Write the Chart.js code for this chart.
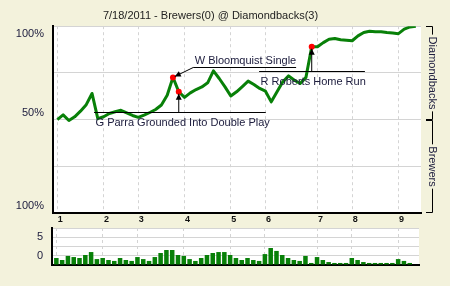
<!DOCTYPE html>
<html>
<head>
<meta charset="utf-8">
<script src="https://cdn.jsdelivr.net/npm/chart.js@4"></script>
<style>
  html, body { margin: 0; padding: 0; background: #f3f2dc; }
  #wrap { position: relative; width: 450px; height: 286px; overflow: hidden; }
  #wpChart { position: absolute; left: 0; top: 0; }
  #levChart { position: absolute; left: 0; top: 224px; }
</style>
</head>
<body>
<div id="wrap">
  <canvas id="wpChart" width="450" height="226"></canvas>
  <canvas id="levChart" width="450" height="62"></canvas>
</div>
<script>
const titleText = '7/18/2011 - Brewers(0) @ Diamondbacks(3)';
const teams = ['Diamondbacks', 'Brewers'];

// win probability (home team %), one value per play
const winProb = [50, 52.5, 49.5, 51.5, 54.5, 58, 64, 50.5, 51.5, 53.3,
  54.2, 55, 53.6, 52.2, 51.2, 52.4, 53.8, 55.4, 57.8, 63,
  72.6, 64.9, 61.9, 64.3, 66.1, 67.5, 69.7, 76.1, 72, 67.5,
  62.6, 64.9, 67.7, 70.6, 68.8, 66.7, 65.2, 59.5, 64.9, 70.2,
  73.4, 71.1, 69.3, 72.6, 89, 89, 91.2, 93, 93.4, 92.7,
  92.5, 92.2, 94.8, 96.6, 97.3, 97, 97, 96.6, 96.4, 96,
  98.4, 99.6, 100];

// bottom bars, one per play
const leverage = [3.8, 2.7, 4.9, 4.3, 3.8, 5.4, 7.0, 3.2, 3.8, 2.7,
  2.2, 3.8, 2.7, 2.2, 4.3, 3.2, 2.2, 4.3, 6.5, 8.1,
  8.1, 5.4, 4.9, 3.2, 2.2, 3.8, 5.4, 6.5, 7.0, 7.0,
  5.4, 3.8, 2.7, 3.8, 2.7, 2.2, 5.9, 9.2, 7.6, 5.4,
  3.8, 2.7, 2.2, 4.9, 1.1, 4.3, 2.7, 1.6, 1.1, 1.1,
  1.1, 3.8, 2.7, 1.6, 1.1, 1.1, 1.1, 1.1, 1.1, 3.2,
  2.2, 1.1];

const inningStart = [0, 8, 14, 22, 30, 36, 45, 51, 59];
const inningLabels = ['1', '2', '3', '4', '5', '6', '7', '8', '9'];

const pctTicks = [0, 25, 50, 75, 100];
const pctLabels = { 100: '100%', 50: '50%', 0: '100%' };
const levTicks = [0, 5, 10, 15, 20];
const levLabels = { 15: '5', 5: '0' };

const eventIdx = [20, 21, 44];
const eventText = ['W Bloomquist Single', 'G Parra Grounded Into Double Play', 'R Roberts Home Run'];

const FONT = "'Liberation Sans', Arial, sans-serif";
const TEXT = '#202040';
const GRID = '#d4d4d4';

// where each note's rule sits (data units) and where its arrow starts
const noteLayout = [
  { x1: 23.5, x2: 41.3, y: 77.9, from: 23.5, side: 'above' },
  { x1: 6.35, x2: 36.05, y: 53.9, from: 21, side: 'below' },
  { x1: 34.9, x2: 53.2, y: 76.1, from: 44, side: 'below' }
];

const plotBg = {
  id: 'plotBg',
  beforeDraw(chart) {
    const { ctx, chartArea: a } = chart;
    ctx.save();
    ctx.fillStyle = '#ffffff';
    ctx.fillRect(a.left, a.top, a.right - a.left, a.bottom - a.top);
    ctx.restore();
  }
};

function arrowHead(ctx, x1, y1, x2, y2) {
  const ang = Math.atan2(y2 - y1, x2 - x1);
  const len = 6, w = 3;
  ctx.beginPath();
  ctx.moveTo(x2, y2);
  ctx.lineTo(x2 - len * Math.cos(ang) + w * Math.sin(ang), y2 - len * Math.sin(ang) - w * Math.cos(ang));
  ctx.lineTo(x2 - len * Math.cos(ang) - w * Math.sin(ang), y2 - len * Math.sin(ang) + w * Math.cos(ang));
  ctx.closePath();
  ctx.fill();
}

const notes = {
  id: 'notes',
  afterDatasetsDraw(chart) {
    const { ctx, scales: { x, y } } = chart;
    ctx.save();
    ctx.strokeStyle = '#000';
    ctx.fillStyle = '#000';
    ctx.lineWidth = 1;
    ctx.font = '11px ' + FONT;
    noteLayout.forEach((n, k) => {
      const ly = Math.round(y.getPixelForValue(n.y)) + 0.5;
      const lx1 = x.getPixelForValue(n.x1), lx2 = x.getPixelForValue(n.x2);
      ctx.beginPath();
      ctx.moveTo(lx1, ly);
      ctx.lineTo(lx2, ly);
      ctx.stroke();

      const i = eventIdx[k];
      const px = x.getPixelForValue(i), py = y.getPixelForValue(winProb[i]);
      const sx = x.getPixelForValue(n.from);
      const d = Math.hypot(px - sx, py - ly);
      const ex = px + (sx - px) * 2 / d, ey = py + (ly - py) * 2 / d;
      ctx.beginPath();
      ctx.moveTo(sx, ly);
      ctx.lineTo(ex, ey);
      ctx.stroke();
      arrowHead(ctx, sx, ly, ex, ey);

      ctx.fillStyle = TEXT;
      ctx.textBaseline = 'alphabetic';
      ctx.textAlign = 'left';
      const ty = n.side === 'above' ? ly - 3.5 : ly + 13;
      ctx.fillText(eventText[k], lx1 + 1.5, ty);
      ctx.fillStyle = '#000';
    });
    ctx.restore();
  }
};

const sideLabels = {
  id: 'sideLabels',
  afterDraw(chart) {
    const { ctx, chartArea: a, scales: { y } } = chart;
    ctx.save();
    ctx.font = '11px ' + FONT;
    ctx.strokeStyle = '#000';
    ctx.lineWidth = 1;
    const xL = a.right + 5, xM = Math.round(a.right + 11) + 0.5;
    [[100, 50, teams[0]], [50, 0, teams[1]]].forEach(([v1, v2, name]) => {
      const y1 = Math.round(y.getPixelForValue(v1)) + 0.5;
      const y2 = Math.round(y.getPixelForValue(v2)) - 0.5;
      const mid = (y1 + y2) / 2;
      const tw = ctx.measureText(name).width;
      ctx.beginPath();
      ctx.moveTo(xL, y1); ctx.lineTo(xM, y1); ctx.lineTo(xM, mid - tw / 2 - 2);
      ctx.moveTo(xM, mid + tw / 2 + 2); ctx.lineTo(xM, y2); ctx.lineTo(xL, y2);
      ctx.stroke();
      ctx.save();
      ctx.translate(xM, mid);
      ctx.rotate(Math.PI / 2);
      ctx.fillStyle = TEXT;
      ctx.textAlign = 'center';
      ctx.textBaseline = 'middle';
      ctx.fillText(name, 0, 0);
      ctx.restore();
    });

    // percent labels on the left
    ctx.fillStyle = TEXT;
    ctx.textAlign = 'right';
    ctx.textBaseline = 'alphabetic';
    Object.keys(pctLabels).forEach(v => {
      const py = y.getPixelForValue(+v);
      const by = +v === 100 ? py + 11 : py - 4;
      ctx.fillText(pctLabels[v], a.left - 9, by);
    });
    ctx.restore();
  }
};

const noPad = s => { s.paddingTop = 0; s.paddingBottom = 0; s.paddingLeft = 0; s.paddingRight = 0; };

new Chart(document.getElementById('wpChart'), {
  type: 'line',
  data: {
    datasets: [{
      data: winProb.map((v, i) => ({ x: i, y: v })),
      borderColor: '#088008',
      borderWidth: 3,
      borderJoinStyle: 'round',
      tension: 0,
      fill: false,
      pointRadius: c => eventIdx.includes(c.dataIndex) ? 3 : 0,
      pointBackgroundColor: '#ff0000',
      pointBorderWidth: 0,
      pointHoverRadius: 0
    }]
  },
  options: {
    responsive: false,
    animation: false,
    events: [],
    layout: { padding: { left: 0, right: 29, top: 0, bottom: 0 } },
    plugins: {
      legend: { display: false },
      tooltip: { enabled: false },
      title: {
        display: true,
        text: titleText,
        color: '#222',
        font: { family: FONT, size: 11, weight: 'normal' },
        padding: { top: 9, bottom: 4 }
      }
    },
    scales: {
      x: {
        type: 'linear',
        min: -0.75,
        max: 62.9,
        afterBuildTicks: s => { s.ticks = inningStart.map(v => ({ value: v })); },
        afterFit: s => { noPad(s); s.height = 13; },
        ticks: {
          callback: v => inningLabels[inningStart.indexOf(v)],
          font: { family: FONT, size: 9, weight: 'bold' },
          color: '#111',
          padding: 1,
          labelOffset: 3,
          maxRotation: 0,
          autoSkip: false
        },
        grid: { color: GRID, drawTicks: false },
        border: { color: '#000', width: 2, dash: [3, 3] }
      },
      y: {
        min: 0,
        max: 100,
        afterBuildTicks: s => { s.ticks = pctTicks.map(v => ({ value: v })); },
        afterFit: s => { noPad(s); s.width = 53; },
        ticks: { callback: () => '', autoSkip: false },
        grid: { color: GRID, drawTicks: false },
        border: { color: '#000', width: 2 }
      }
    }
  },
  plugins: [plotBg, notes, sideLabels]
});

new Chart(document.getElementById('levChart'), {
  type: 'bar',
  data: {
    datasets: [{
      data: leverage.map((v, i) => ({ x: i, y: v })),
      backgroundColor: '#088008',
      borderWidth: 0,
      barPercentage: 0.78,
      categoryPercentage: 1
    }]
  },
  options: {
    responsive: false,
    animation: false,
    events: [],
    layout: { padding: { left: 0, right: 31, top: 4, bottom: 0 } },
    plugins: { legend: { display: false }, tooltip: { enabled: false } },
    scales: {
      x: {
        type: 'linear',
        offset: false,
        min: -0.75,
        max: 62.6,
        afterBuildTicks: s => { s.ticks = inningStart.map(v => ({ value: v })); },
        afterFit: s => { noPad(s); s.height = 21; },
        ticks: { display: false, autoSkip: false },
        grid: { color: GRID, drawTicks: false, offset: false },
        border: { color: '#000', width: 2, dash: [3, 3] }
      },
      y: {
        min: 0,
        max: 20,
        afterBuildTicks: s => { s.ticks = levTicks.map(v => ({ value: v })); },
        afterFit: s => { noPad(s); s.width = 52; },
        ticks: {
          callback: v => levLabels[v] ?? '',
          font: { family: FONT, size: 11 },
          color: TEXT,
          padding: 9,
          autoSkip: false
        },
        grid: { color: GRID, drawTicks: false },
        border: { color: '#000', width: 2 }
      }
    }
  },
  plugins: [plotBg]
});
</script>
</body>
</html>
